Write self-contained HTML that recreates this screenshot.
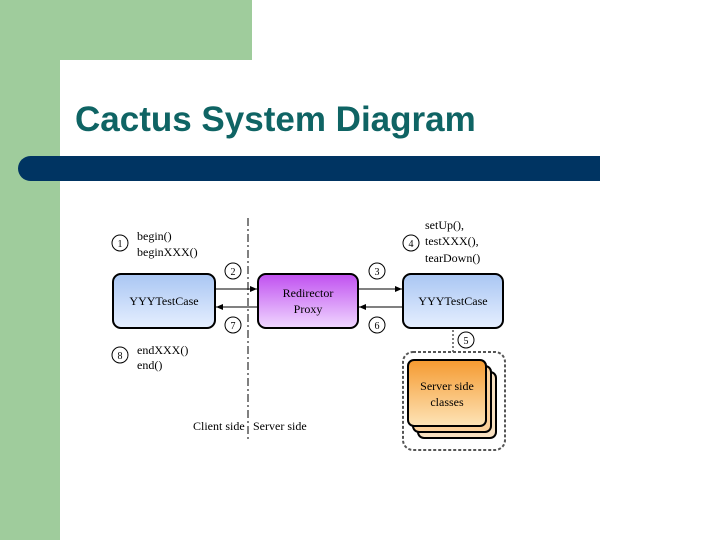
<!DOCTYPE html>
<html><head><style>
body{margin:0;width:720px;height:540px;position:relative;overflow:hidden;background:#fff;font-family:"Liberation Sans",sans-serif}
.g1{position:absolute;left:0;top:0;width:60px;height:540px;background:#9fcc9c}
.g2{position:absolute;left:0;top:0;width:252px;height:60px;background:#9fcc9c}
.wc{position:absolute;left:60px;top:60px;width:40px;height:40px;background:#fff;border-top-left-radius:26px}
.title{position:absolute;left:75px;top:100px;font-size:35px;font-weight:bold;color:#0f6464}
.bar{position:absolute;left:18px;top:156px;width:582px;height:25px;background:#003462;border-radius:13px 0 0 13px}
</style></head><body>
<div class="g1"></div><div class="g2"></div><div class="wc"></div>
<div class="title">Cactus System Diagram</div>
<div class="bar"></div>
<svg width="720" height="540" style="position:absolute;left:0;top:0" font-family="Liberation Serif, serif" font-size="12">
<defs>
<linearGradient id="bl" x1="0" y1="0" x2="0" y2="1"><stop offset="0" stop-color="#a9c6f3"/><stop offset="1" stop-color="#e6efff"/></linearGradient>
<linearGradient id="pu" x1="0" y1="0" x2="0" y2="1"><stop offset="0" stop-color="#c050f0"/><stop offset="1" stop-color="#f0d8ff"/></linearGradient>
<linearGradient id="or" x1="0" y1="0" x2="0" y2="1"><stop offset="0" stop-color="#f59a30"/><stop offset="1" stop-color="#fde4b8"/></linearGradient>
<marker id="a" markerWidth="8" markerHeight="8" refX="7" refY="3" orient="auto"><path d="M0,0 L7,3 L0,6z" fill="#000"/></marker>
</defs>
<line x1="248" y1="218" x2="248" y2="440" stroke="#000" stroke-dasharray="8,3,2,3"/>
<rect x="113" y="274" width="102" height="54" rx="8" fill="url(#bl)" stroke="#000" stroke-width="2"/>
<rect x="258" y="274" width="100" height="54" rx="8" fill="url(#pu)" stroke="#000" stroke-width="2"/>
<rect x="403" y="274" width="100" height="54" rx="8" fill="url(#bl)" stroke="#000" stroke-width="2"/>
<text x="164" y="305" text-anchor="middle">YYYTestCase</text>
<text x="308" y="297" text-anchor="middle">Redirector</text>
<text x="308" y="313" text-anchor="middle">Proxy</text>
<text x="453" y="305" text-anchor="middle">YYYTestCase</text>
<g stroke="#000" fill="none">
<line x1="215" y1="289" x2="257" y2="289" marker-end="url(#a)"/>
<line x1="258" y1="307" x2="216" y2="307" marker-end="url(#a)"/>
<line x1="358" y1="289" x2="402" y2="289" marker-end="url(#a)"/>
<line x1="403" y1="307" x2="359" y2="307" marker-end="url(#a)"/>
<line x1="453" y1="330" x2="453" y2="352" stroke-dasharray="2,2"/>
<rect x="403" y="352" width="102" height="98" rx="10" stroke="#555" stroke-width="2" stroke-dasharray="3,2"/>
</g>
<rect x="418" y="372" width="78" height="66" rx="6" fill="#f8e0c0" stroke="#000" stroke-width="2"/>
<rect x="413" y="366" width="78" height="66" rx="6" fill="#fbd09a" stroke="#000" stroke-width="2"/>
<rect x="408" y="360" width="78" height="66" rx="6" fill="url(#or)" stroke="#000" stroke-width="2"/>
<text x="447" y="390" text-anchor="middle">Server side</text>
<text x="447" y="406" text-anchor="middle">classes</text>
<g fill="#fff" stroke="#000">
<circle cx="120" cy="243" r="8"/><circle cx="233" cy="271" r="8"/><circle cx="377" cy="271" r="8"/>
<circle cx="411" cy="243" r="8"/><circle cx="233" cy="325" r="8"/><circle cx="377" cy="325" r="8"/>
<circle cx="466" cy="340" r="8"/><circle cx="120" cy="355" r="8"/>
</g>
<g font-size="10" text-anchor="middle">
<text x="120" y="247">1</text><text x="233" y="275">2</text><text x="377" y="275">3</text>
<text x="411" y="247">4</text><text x="233" y="329">7</text><text x="377" y="329">6</text>
<text x="466" y="344">5</text><text x="120" y="359">8</text>
</g>
<text x="137" y="240">begin()</text>
<text x="137" y="256">beginXXX()</text>
<text x="425" y="229">setUp(),</text>
<text x="425" y="245">testXXX(),</text>
<text x="425" y="262">tearDown()</text>
<text x="137" y="354">endXXX()</text>
<text x="137" y="369">end()</text>
<text x="193" y="430">Client side</text>
<text x="253" y="430">Server side</text>
</svg>
</body></html>
